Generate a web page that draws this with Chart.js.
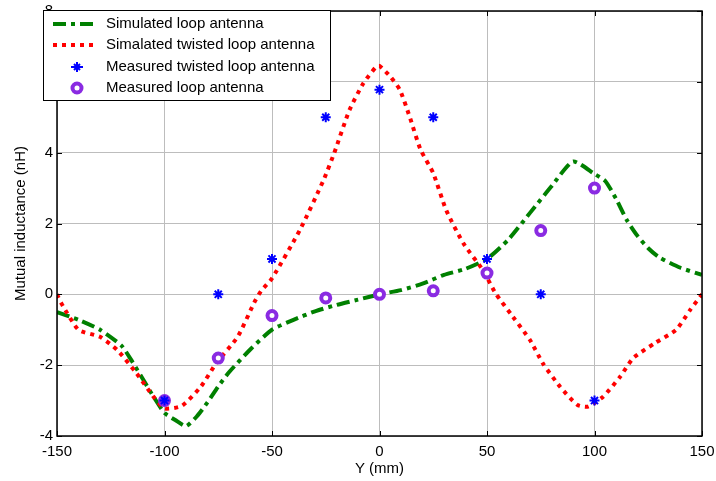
<!DOCTYPE html>
<html lang="en">
<head>
  <meta charset="UTF-8" />
  <title>Mutual inductance vs Y</title>
  <script src="https://cdn.jsdelivr.net/npm/chart.js"></script>
  <style>
    body { margin: 0; background: #fff; }
    #wrap { width: 716px; height: 481px; }
  </style>
</head>
<body>
  <div id="wrap"><canvas id="chart" width="716" height="481"></canvas></div>

  <script>
    // simulated loop antenna (green dash-dot)
    const simLoopX = [-150, -140, -130, -120, -115, -110, -105, -100, -95, -90, -85, -80, -75, -70, -60, -50, -40, -30, -20, -10, 0, 10, 20, 30, 40, 50, 60, 70, 80, 90, 100, 105, 110, 115, 120, 125, 130, 140, 150];
    const simLoopY = [-0.5, -0.72, -1.0, -1.45, -1.9, -2.4, -2.9, -3.35, -3.55, -3.72, -3.45, -3.05, -2.6, -2.2, -1.55, -1.0, -0.72, -0.48, -0.3, -0.15, 0.0, 0.12, 0.3, 0.55, 0.72, 1.0, 1.55, 2.3, 3.05, 3.75, 3.4, 3.2, 2.7, 2.1, 1.65, 1.3, 1.05, 0.75, 0.55];

    // simulated twisted loop antenna (red dotted)
    const simTwistX = [-150, -148, -140, -130, -122, -113, -105, -100, -92, -83, -76, -66, -58, -55, -50, -37, -26, -21, -14, -7.5, -1.5, 0, 5, 9.5, 14, 19, 25, 31, 39, 48, 54, 62, 70, 76, 84, 92, 97, 104, 112, 118, 128, 138, 144.5, 150];
    const simTwistY = [0.0, -0.25, -1.0, -1.2, -1.57, -2.23, -2.9, -3.22, -3.15, -2.6, -1.95, -1.2, -0.2, 0.1, 0.45, 1.82, 3.23, 4.0, 5.2, 5.96, 6.43, 6.45, 6.15, 5.77, 5.02, 4.1, 3.42, 2.38, 1.44, 0.69, 0.03, -0.63, -1.29, -1.95, -2.61, -3.12, -3.17, -2.89, -2.32, -1.8, -1.38, -1.0, -0.44, 0.0];

    // measurements
    const measX = [-100, -75, -50, -25, 0, 25, 50, 75, 100];
    const measTwistY = [-3.0, 0.0, 1.0, 5.0, 5.78, 5.0, 1.0, 0.0, -3.0];
    const measLoopY = [-3.0, -1.8, -0.6, -0.1, 0.0, 0.1, 0.6, 1.8, 3.0];

    const xTicks = [-150, -100, -50, 0, 50, 100, 150];
    const yTicks = [-4, -2, 0, 2, 4, 6, 8];

    const legendLabels = ['Simulated loop antenna', 'Simalated twisted loop antenna', 'Measured twisted loop antenna', 'Measured loop antenna'];

    const GREEN = '#008000', RED = '#ff0000', BLUE = '#0000ff', PURPLE = '#8a2be2';
    const FONT = '"Liberation Sans", Arial, sans-serif';

    const pts = (xs, ys) => xs.map((x, i) => ({ x: x, y: ys[i] }));

    const framePlugin = {
      id: 'frame',
      afterDraw(chart) {
        const ctx = chart.ctx;
        const a = chart.chartArea;
        const xs = chart.scales.x, ys = chart.scales.y;
        ctx.save();
        // inward ticks
        ctx.strokeStyle = '#000';
        ctx.lineWidth = 1;
        ctx.beginPath();
        xTicks.forEach(v => {
          const px = Math.round(xs.getPixelForValue(v)) + 0.5;
          ctx.moveTo(px, a.bottom); ctx.lineTo(px, a.bottom - 5);
          ctx.moveTo(px, a.top); ctx.lineTo(px, a.top + 5);
        });
        yTicks.forEach(v => {
          const py = Math.round(ys.getPixelForValue(v)) + 0.5;
          ctx.moveTo(a.left, py); ctx.lineTo(a.left + 5, py);
          ctx.moveTo(a.right, py); ctx.lineTo(a.right - 5, py);
        });
        ctx.stroke();
        // axes box
        ctx.lineWidth = 1.5;
        ctx.strokeRect(a.left, a.top, a.right - a.left, a.bottom - a.top);

        // legend
        const lx = 43, ly = 10, lw = 287, lh = 90;
        ctx.fillStyle = '#fff';
        ctx.fillRect(lx, ly, lw, lh);
        ctx.lineWidth = 1;
        ctx.strokeStyle = '#000';
        ctx.strokeRect(lx + 0.5, ly + 0.5, lw, lh);
        const rows = [24, 45, 67, 88];
        ctx.font = '15px ' + FONT;
        ctx.textBaseline = 'middle';
        ctx.fillStyle = '#000';
        rows.forEach((ry, i) => ctx.fillText(legendLabels[i], 106, ry));
        ctx.lineWidth = 4;
        ctx.strokeStyle = GREEN;
        ctx.setLineDash([13, 5, 4, 5]);
        ctx.beginPath(); ctx.moveTo(53, rows[0]); ctx.lineTo(96, rows[0]); ctx.stroke();
        ctx.strokeStyle = RED;
        ctx.setLineDash([4, 5]);
        ctx.beginPath(); ctx.moveTo(53, rows[1]); ctx.lineTo(96, rows[1]); ctx.stroke();
        ctx.setLineDash([]);
        // star marker
        ctx.strokeStyle = BLUE;
        ctx.lineWidth = 2;
        ctx.beginPath();
        ctx.moveTo(71, rows[2]); ctx.lineTo(83, rows[2]);
        ctx.moveTo(77, rows[2] - 5); ctx.lineTo(77, rows[2] + 5);
        ctx.moveTo(74, rows[2] - 3); ctx.lineTo(80, rows[2] + 3);
        ctx.moveTo(80, rows[2] - 3); ctx.lineTo(74, rows[2] + 3);
        ctx.stroke();
        // circle marker
        ctx.strokeStyle = PURPLE;
        ctx.lineWidth = 4;
        ctx.beginPath(); ctx.arc(77, rows[3], 4.5, 0, Math.PI * 2); ctx.stroke();
        ctx.restore();
      }
    };

    const ctx = document.getElementById('chart').getContext('2d');
    new Chart(ctx, {
      type: 'scatter',
      data: {
        datasets: [
          {
            label: legendLabels[3],
            data: pts(measX, measLoopY),
            showLine: false,
            pointStyle: 'circle',
            pointRadius: 4.5,
            pointBorderWidth: 4,
            pointBorderColor: PURPLE,
            pointBackgroundColor: '#fff',
            order: 1
          },
          {
            label: legendLabels[2],
            data: pts(measX, measTwistY),
            showLine: false,
            pointStyle: 'star',
            pointRadius: 5,
            pointBorderWidth: 2,
            pointBorderColor: BLUE,
            pointBackgroundColor: BLUE,
            order: 0
          },
          {
            label: legendLabels[1],
            data: pts(simTwistX, simTwistY),
            showLine: true,
            borderColor: RED,
            borderWidth: 4,
            borderDash: [4, 5],
            pointRadius: 0,
            tension: 0.2,
            order: 2
          },
          {
            label: legendLabels[0],
            data: pts(simLoopX, simLoopY),
            showLine: true,
            borderColor: GREEN,
            borderWidth: 4,
            borderDash: [13, 5, 4, 5],
            pointRadius: 0,
            tension: 0.2,
            order: 3
          }
        ]
      },
      options: {
        responsive: false,
        animation: false,
        layout: { padding: { top: 11, right: 14, left: 0, bottom: 0 } },
        plugins: { legend: { display: false }, tooltip: { enabled: false } },
        scales: {
          x: {
            type: 'linear',
            min: -150, max: 150,
            afterBuildTicks: s => { s.ticks = xTicks.map(v => ({ value: v })); },
            afterFit: s => { s.height = 45; s.paddingLeft = 0; s.paddingRight = 0; },
            grid: { color: '#bdbdbd', lineWidth: 1, drawTicks: false },
            border: { display: false },
            ticks: { color: '#000', padding: 7, font: { size: 15, family: FONT } },
            title: { display: true, text: 'Y (mm)', color: '#000', padding: { top: 0, bottom: 3 }, font: { size: 15, family: FONT } }
          },
          y: {
            type: 'linear',
            min: -4, max: 8,
            afterBuildTicks: s => { s.ticks = yTicks.map(v => ({ value: v })); },
            afterFit: s => { s.width = 57; s.paddingTop = 0; s.paddingBottom = 0; },
            grid: { color: '#bdbdbd', lineWidth: 1, drawTicks: false },
            border: { display: false },
            ticks: { color: '#000', padding: 4, font: { size: 15, family: FONT } },
            title: { display: true, text: 'Mutual inductance (nH)', color: '#000', padding: { top: 12, bottom: 0 }, font: { size: 15, family: FONT } }
          }
        }
      },
      plugins: [framePlugin]
    });
  </script>
</body>
</html>
